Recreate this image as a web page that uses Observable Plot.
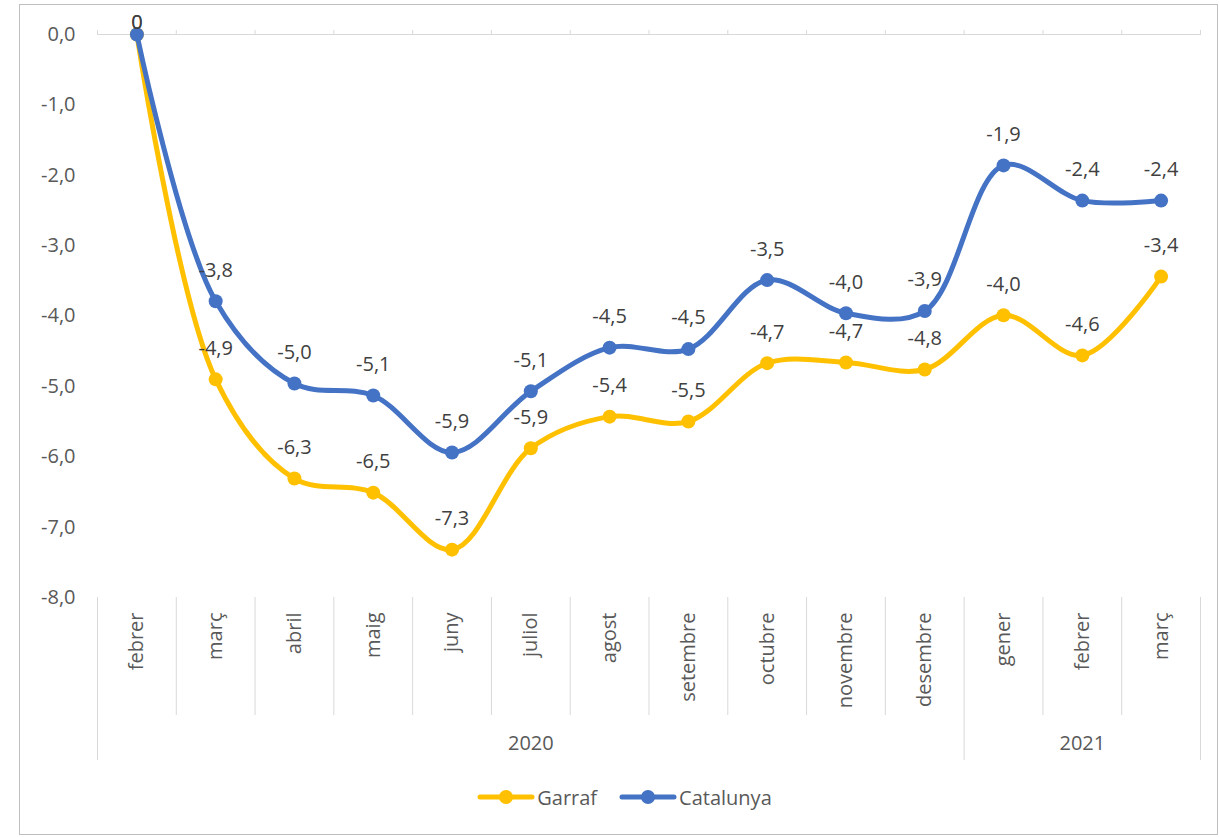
<!DOCTYPE html>
<html>
<head>
<meta charset="utf-8">
<script src="https://cdn.jsdelivr.net/npm/d3@7"></script>
<script src="https://cdn.jsdelivr.net/npm/@observablehq/plot@0.6"></script>
<style>
  body { margin: 0; background: #fff; font-family: "Open Sans", sans-serif; }
  #wrap { position: relative; width: 1219px; height: 837px; overflow: hidden; }
  #frame { position: absolute; left: 19px; top: 4px; width: 1197px; height: 829px; border: 1px solid #bfbfbf; pointer-events: none; }
  #legend { display: flex; justify-content: center; align-items: center; height: 34px; gap: 22px; font-size: 20px; color: #595959; padding-left: 30px; }
  .item { display: flex; align-items: center; gap: 2px; }
</style>
</head>
<body>
<div id="wrap">
  <div id="chart"></div>
  <div id="legend"></div>
  <div id="frame"></div>
</div>
<script>
const months = ["febrer","març","abril","maig","juny","juliol","agost","setembre","octubre","novembre","desembre","gener","febrer","març"];
const years = ["2020", "2021"];
const yearFirst = [0, 11];
const yearLast = [10, 13];
const garraf = [0, -4.90, -6.31, -6.51, -7.32, -5.88, -5.43, -5.50, -4.67, -4.66, -4.76, -3.99, -4.56, -3.44];
const catalunya = [0, -3.79, -4.96, -5.13, -5.94, -5.07, -4.45, -4.47, -3.49, -3.96, -3.93, -1.86, -2.36, -2.36];
const seriesNames = ["Garraf", "Catalunya"];
const seriesColors = ["#FFC000", "#4472C4"];
const yTicks = [0, -1, -2, -3, -4, -5, -6, -7, -8];

const idx = d3.range(months.length);
const boundaries = d3.range(months.length + 1).map(i => i - 0.5);
const longBounds = [yearFirst[0] - 0.5, ...yearLast.map(i => i + 0.5)];
const shortBounds = boundaries.filter(b => !longBounds.includes(b));
const yearCenters = yearFirst.map((f, k) => (f + yearLast[k]) / 2);

const rows = (vals, name) => vals.map((v, i) => ({i, value: v, series: name}));
const g = rows(garraf, seriesNames[0]);
const c = rows(catalunya, seriesNames[1]);
const fmt = v => v === 0 ? "0" : v.toFixed(1).replace(".", ",");
const yFmt = v => v.toFixed(1).replace(".", ",");
const grid = "#d9d9d9";
const tickColor = "#595959";
const labelColor = "#404040";

const labelMarks = (data) => [
  Plot.text(data.filter(d => d.value !== 0), {x: "i", y: "value", text: d => fmt(d.value), dy: -31, fill: labelColor, fontSize: 20}),
  Plot.text(data.filter(d => d.value === 0), {x: "i", y: "value", text: d => fmt(d.value), dy: -12, fill: labelColor, fontSize: 20})
];

const chart = Plot.plot({
  width: 1219,
  height: 780,
  marginTop: 34,
  marginLeft: 97,
  marginRight: 19,
  marginBottom: 183,
  x: {domain: [-0.5, months.length - 0.5]},
  y: {domain: [-8, 0]},
  style: {fontFamily: "'Open Sans', sans-serif", fontSize: "20px", background: "transparent"},
  marks: [
    Plot.ruleY([0], {stroke: grid, strokeWidth: 1}),
    Plot.axisY({ticks: yTicks, tickFormat: yFmt, tickSize: 0, tickPadding: 22, fontSize: 20, fill: tickColor, label: null}),
    Plot.axisX({anchor: "top", ticks: boundaries, tickSize: 5, tickFormat: () => "", stroke: grid, label: null}),
    Plot.axisX({anchor: "bottom", ticks: shortBounds, tickSize: 118, tickFormat: () => "", stroke: grid, label: null}),
    Plot.axisX({anchor: "bottom", ticks: longBounds, tickSize: 163, tickFormat: () => "", stroke: grid, label: null}),
    Plot.axisX({anchor: "bottom", ticks: idx, tickSize: 0, tickPadding: 15, tickRotate: -90, tickFormat: i => months[i], fontSize: 20, fill: tickColor, label: null}),
    Plot.axisX({anchor: "bottom", ticks: yearCenters, tickSize: 0, tickPadding: 138, tickFormat: v => years[yearCenters.indexOf(v)], fontSize: 20, fill: tickColor, label: null}),
    Plot.line(g, {x: "i", y: "value", stroke: seriesColors[0], strokeWidth: 5, curve: "catmull-rom"}),
    Plot.dot(g, {x: "i", y: "value", fill: seriesColors[0], r: 7}),
    Plot.line(c, {x: "i", y: "value", stroke: seriesColors[1], strokeWidth: 5, curve: "catmull-rom"}),
    Plot.dot(c, {x: "i", y: "value", fill: seriesColors[1], r: 7}),
    ...labelMarks(g),
    ...labelMarks(c)
  ]
});
document.getElementById("chart").appendChild(chart);

const legend = document.getElementById("legend");
seriesNames.forEach((name, k) => {
  const item = document.createElement("div");
  item.className = "item";
  item.innerHTML = `<svg width="58" height="18"><line x1="3" x2="55" y1="9" y2="9" stroke="${seriesColors[k]}" stroke-width="5" stroke-linecap="round"/><circle cx="29" cy="9" r="7" fill="${seriesColors[k]}"/></svg><span>${name}</span>`;
  legend.appendChild(item);
});
</script>
</body>
</html>
